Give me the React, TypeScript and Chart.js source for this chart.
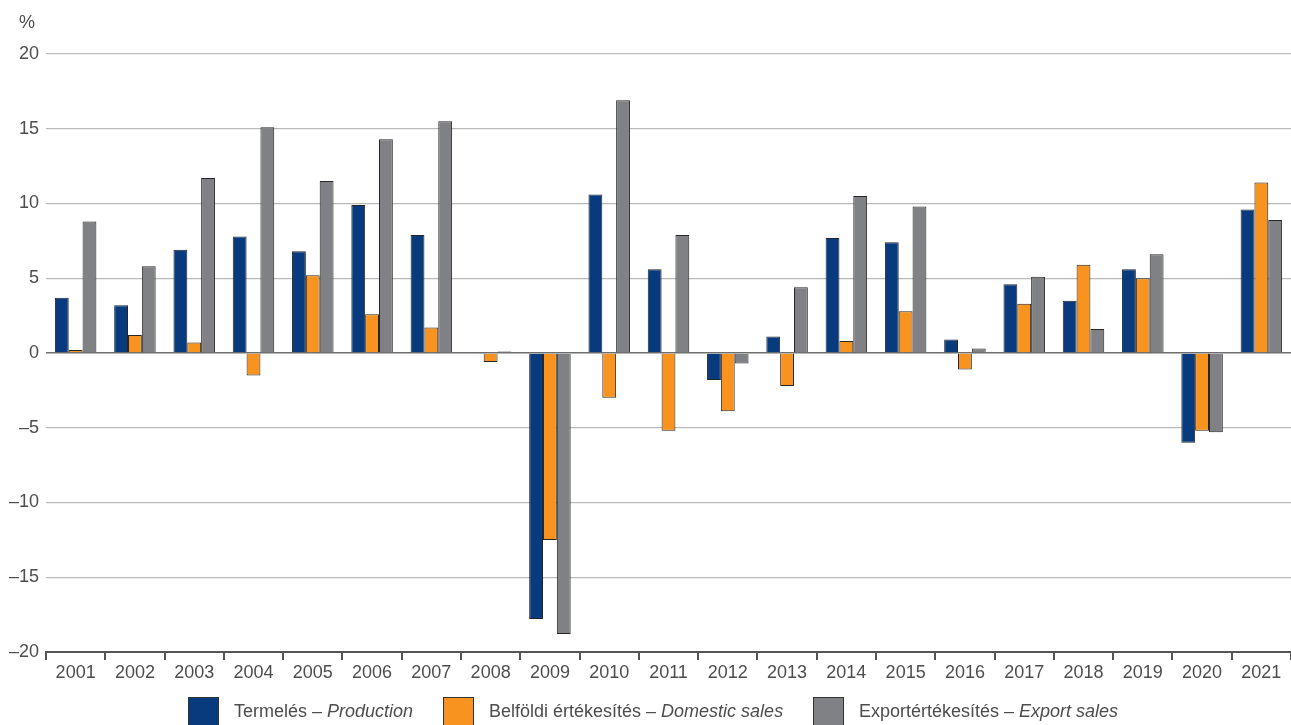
import React, { useEffect, useRef } from "react";
import { Chart, registerables } from "chart.js";

Chart.register(...registerables);

// ---- Data ----
const years = [
  "2001", "2002", "2003", "2004", "2005", "2006", "2007", "2008", "2009", "2010", "2011",
  "2012", "2013", "2014", "2015", "2016", "2017", "2018", "2019", "2020", "2021",
];
const production = [3.7, 3.2, 6.9, 7.8, 6.8, 9.9, 7.9, 0.0, -17.8, 10.6, 5.6, -1.8, 1.1, 7.7, 7.4, 0.9, 4.6, 3.5, 5.6, -6.0, 9.6];
const domesticSales = [0.2, 1.2, 0.7, -1.5, 5.2, 2.6, 1.7, -0.6, -12.5, -3.0, -5.2, -3.9, -2.2, 0.8, 2.8, -1.1, 3.3, 5.9, 5.0, -5.2, 11.4];
const exportSales = [8.8, 5.8, 11.7, 15.1, 11.5, 14.3, 15.5, 0.1, -18.8, 16.9, 7.9, -0.7, 4.4, 10.5, 9.8, 0.3, 5.1, 1.6, 6.6, -5.3, 8.9];
const seriesHungarian = ["Termelés – ", "Belföldi értékesítés – ", "Exportértékesítés – "];
const seriesEnglish = ["Production", "Domestic sales", "Export sales"];
const seriesColors = ["#083a7e", "#f7931e", "#808185"];
const yMin = -20;
const yMax = 20;
const yStep = 5;
const unitLabel = "%";

const FONT = '"Liberation Sans Narrow", "Arial Narrow", "Liberation Sans", Arial, sans-serif';
const FONT_SIZE = 18;
const TEXT_COLOR = "#4d4d4d";

const fmtTick = (v: number) => (v < 0 ? "\u2013" + Math.abs(v) : String(v));

const decorPlugin = {
  id: "decor",
  afterDraw(chart: any) {
    const ctx = chart.ctx as CanvasRenderingContext2D;
    const area = chart.chartArea;
    ctx.save();
    // unit label
    ctx.fillStyle = TEXT_COLOR;
    ctx.font = `${FONT_SIZE}px ${FONT}`;
    ctx.textAlign = "center";
    ctx.textBaseline = "middle";
    ctx.fillText(unitLabel, 27, area.top - 31);

    // legend
    const normalFont = `${FONT_SIZE}px ${FONT}`;
    const italicFont = `italic ${FONT_SIZE}px ${FONT}`;
    const boxW = 31;
    const boxH = 30;
    const gapBox = 15;
    const gapItem = 30;
    const widths = seriesHungarian.map((h, i) => {
      ctx.font = normalFont;
      const w1 = ctx.measureText(h).width;
      ctx.font = italicFont;
      const w2 = ctx.measureText(seriesEnglish[i]).width;
      return { w1, w2, total: boxW + gapBox + w1 + w2 };
    });
    const total = widths.reduce((s, w) => s + w.total, 0) + gapItem * (widths.length - 1);
    let x = Math.round((chart.width - total) / 2 + 8);
    const boxTop = area.bottom + 45;
    const textY = area.bottom + 60;
    ctx.textAlign = "left";
    ctx.textBaseline = "middle";
    widths.forEach((w, i) => {
      ctx.fillStyle = seriesColors[i];
      ctx.fillRect(x, boxTop, boxW, boxH);
      ctx.strokeStyle = "#333";
      ctx.lineWidth = 1;
      ctx.strokeRect(x + 0.5, boxTop + 0.5, boxW - 1, boxH - 1);
      let tx = x + boxW + gapBox;
      ctx.fillStyle = TEXT_COLOR;
      ctx.font = normalFont;
      ctx.fillText(seriesHungarian[i], tx, textY);
      tx += w.w1;
      ctx.font = italicFont;
      ctx.fillText(seriesEnglish[i], tx, textY);
      x += Math.round(w.total + gapItem);
    });
    ctx.restore();
  },
};

export default function App() {
  const canvasRef = useRef<HTMLCanvasElement | null>(null);

  useEffect(() => {
    if (!canvasRef.current) return;
    const allSeries = [production, domesticSales, exportSales];
    const chart = new Chart(canvasRef.current, {
      type: "bar",
      data: {
        labels: years,
        datasets: allSeries.map((d, i) => ({
          label: seriesHungarian[i] + seriesEnglish[i],
          data: d,
          backgroundColor: seriesColors[i],
          borderColor: "#262626",
          borderWidth: 1,
          categoryPercentage: 0.7,
          barPercentage: 1.0,
        })),
      },
      options: {
        responsive: false,
        animation: false,
        layout: { padding: { top: 54, left: 0, right: 0, bottom: 43 } },
        plugins: {
          legend: { display: false },
          tooltip: { enabled: false },
        },
        scales: {
          x: {
            grid: {
              offset: true,
              drawOnChartArea: false,
              drawTicks: true,
              tickLength: 8,
              color: "#555",
              lineWidth: 2,
            },
            border: { display: true, color: "#555", width: 2 },
            ticks: {
              color: TEXT_COLOR,
              font: { family: FONT, size: FONT_SIZE },
              padding: 2,
              maxRotation: 0,
              autoSkip: false,
            },
            afterFit: (scale: any) => {
              scale.height = 30;
            },
          },
          y: {
            min: yMin,
            max: yMax,
            grid: {
              drawTicks: false,
              color: (c: any) => (c.tick && c.tick.value === 0 ? "#6e6e6e" : "#bababa"),
              lineWidth: (c: any) => (c.tick && c.tick.value === 0 ? 1.5 : 1.3),
            },
            border: { display: false },
            ticks: {
              stepSize: yStep,
              color: TEXT_COLOR,
              font: { family: FONT, size: FONT_SIZE },
              padding: 7,
              callback: (v: any) => fmtTick(Number(v)),
            },
            afterFit: (scale: any) => {
              scale.width = 46;
            },
          },
        },
      },
      plugins: [decorPlugin],
    });
    return () => chart.destroy();
  }, []);

  return (
    <div style={{ position: "fixed", left: 0, top: 0, width: 1291, height: 725, background: "#fff" }}>
      <canvas ref={canvasRef} width={1291} height={725} />
    </div>
  );
}
